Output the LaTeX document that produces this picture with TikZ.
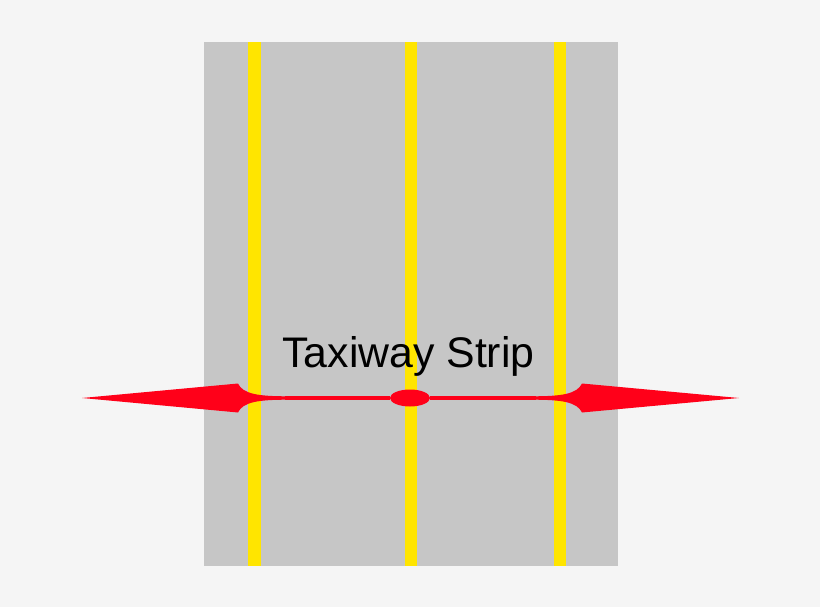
\documentclass[tikz,border=0pt]{standalone}
\usepackage{fontspec}
\setmainfont{Liberation Sans}
\usetikzlibrary{shapes.geometric}
\definecolor{bgcol}{HTML}{F5F5F5}
\definecolor{stripgrey}{HTML}{C6C6C6}
\definecolor{lineyellow}{HTML}{FFE500}
\definecolor{arrowred}{HTML}{FF0019}
\begin{document}
\begin{tikzpicture}[
    x=1pt, y=-1pt,
    strip/.style={fill=stripgrey, draw=none},
    centreline/.style={fill=lineyellow, draw=none},
    arrowhead/.style={fill=arrowred, draw=none},
    shaft/.style={draw=arrowred, line width=3.4pt}
]
% background fixes the margins
\fill [bgcol] (0,0) rectangle (820,607);
\useasboundingbox (0,0) rectangle (820,607);
\fill [strip] (204,42) rectangle (618,566);
\fill [centreline] (248,42) rectangle (261,566);
\fill [centreline] (405,42) rectangle (417,566);
\fill [centreline] (554,42) rectangle (566,566);
\node [font=\fontsize{42.8}{48}\selectfont, anchor=base] (label) at (408.5,367) {Taxiway Strip};
\node [ellipse, fill=arrowred, minimum width=40pt, minimum height=17pt, inner sep=0pt] (mid) at (410,398) {};
\coordinate (ltip) at (82,398);
\coordinate (rtip) at (739,398);
\draw [shaft] (mid) -- (285,398);
\draw [shaft] (mid) -- (536,398);
% left arrow head
\fill [arrowhead] (ltip) -- (238,383.5)
    .. controls (243,394) and (258,396.3) .. (288,396.3) -- (288,399.7)
    .. controls (258,399.7) and (243,402) .. (238,412.5) -- cycle;
% right arrow head
\fill [arrowhead] (rtip) -- (582,383.5)
    .. controls (577,394) and (562,396.3) .. (532,396.3) -- (532,399.7)
    .. controls (562,399.7) and (577,402) .. (582,412.5) -- cycle;
\end{tikzpicture}
\end{document}
